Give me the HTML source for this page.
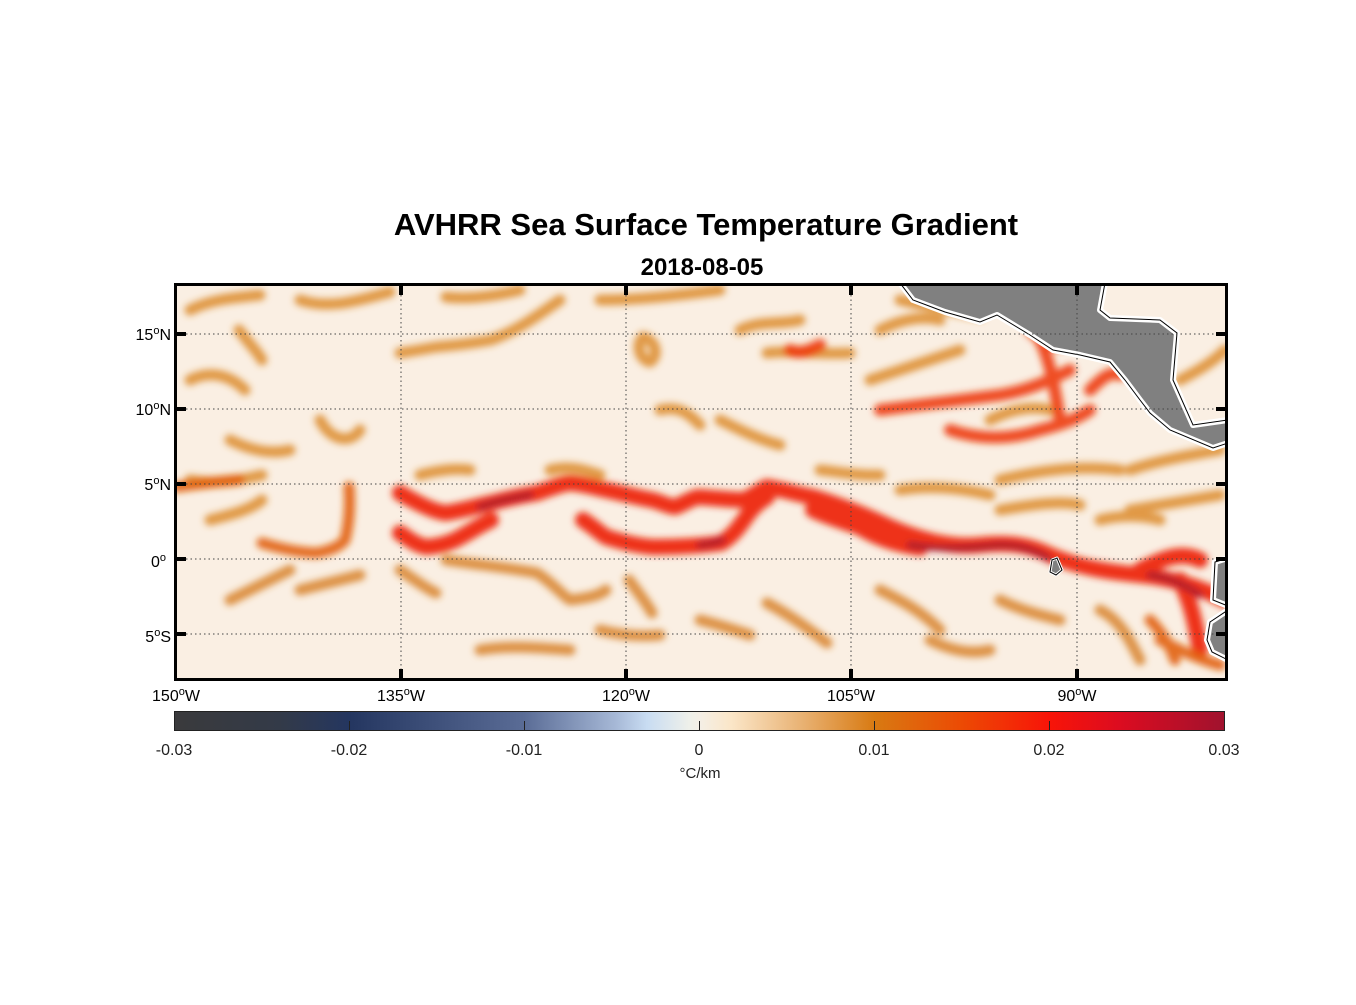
<!DOCTYPE html>
<html><head><meta charset="utf-8"><style>
html,body{margin:0;padding:0;background:#fff;}
body{width:1356px;height:1000px;overflow:hidden;font-family:"Liberation Sans",Arial,sans-serif;}
</style></head><body>
<svg width="1356" height="1000" viewBox="0 0 1356 1000" xmlns="http://www.w3.org/2000/svg" font-family="Liberation Sans, Arial, sans-serif">
<defs>
<filter id="b1" x="-20%" y="-20%" width="140%" height="140%"><feGaussianBlur stdDeviation="3.5"/></filter>
<clipPath id="cp"><rect x="177" y="286" width="1048" height="392"/></clipPath>
<linearGradient id="cb" x1="0" x2="1" y1="0" y2="0">
<stop offset="0" stop-color="#3a3a3c"/>
<stop offset="0.1" stop-color="#333a48"/>
<stop offset="0.1667" stop-color="#243660"/>
<stop offset="0.3333" stop-color="#5a6c96"/>
<stop offset="0.42" stop-color="#a6b8d6"/>
<stop offset="0.45" stop-color="#c8dcf2"/>
<stop offset="0.49" stop-color="#eef0ea"/>
<stop offset="0.5" stop-color="#f4efe6"/>
<stop offset="0.53" stop-color="#fbe6c8"/>
<stop offset="0.6" stop-color="#e8b070"/>
<stop offset="0.6667" stop-color="#d87a12"/>
<stop offset="0.75" stop-color="#ec4a04"/>
<stop offset="0.8333" stop-color="#f81408"/>
<stop offset="0.9" stop-color="#dc0c20"/>
<stop offset="1" stop-color="#a0122e"/>
</linearGradient>
</defs>
<text x="706" y="235" text-anchor="middle" font-size="31" font-weight="bold">AVHRR Sea Surface Temperature Gradient</text>
<text x="702" y="275" text-anchor="middle" font-size="24" font-weight="bold">2018-08-05</text>
<g clip-path="url(#cp)">
<rect x="177" y="286" width="1048" height="392" fill="#faefe3"/>
<g fill="none" stroke-linecap="round" stroke-linejoin="round" filter="url(#b1)">
<g stroke="#dc8a2a" stroke-width="11" opacity="0.85">
<path d="M400 353 C420 350 430 348 436 347 C460 345 480 342 491 340 C520 330 545 310 560 300"/>
<path d="M446 297 C470 300 500 295 520 290"/>
<path d="M239 330 C250 345 258 352 262 360"/>
<path d="M190 310 C210 300 230 298 260 295"/>
<path d="M300 300 C330 310 360 300 390 292"/>
<path d="M643 337 C635 345 640 360 650 362 C660 355 655 340 643 337"/>
<path d="M767 353 C790 350 820 355 850 353"/>
<path d="M740 330 C760 320 780 325 800 320"/>
<path d="M600 300 C640 300 680 295 720 290"/>
<path d="M880 330 C900 320 920 315 940 320"/>
<path d="M870 380 C900 370 930 360 960 350"/>
<path d="M900 300 C920 305 950 310 980 315"/>
<path d="M190 380 C210 370 230 375 245 390"/>
<path d="M230 440 C250 450 270 455 290 450"/>
<path d="M320 420 C330 440 350 445 360 430"/>
<path d="M190 480 C220 485 240 480 262 475"/>
<path d="M210 520 C230 515 250 510 262 500"/>
<path d="M720 420 C740 430 760 440 780 445"/>
<path d="M1000 480 C1040 470 1080 465 1120 470"/>
<path d="M1130 470 C1160 460 1190 455 1220 450"/>
<path d="M420 475 C440 470 455 468 470 470"/>
<path d="M820 470 C840 472 860 476 880 475"/>
<path d="M1130 510 C1160 505 1190 500 1220 495"/>
<path d="M1180 380 C1200 370 1215 360 1225 350"/>
<path d="M990 420 C1010 410 1030 405 1050 410"/>
<path d="M660 410 C680 405 690 415 700 425"/>
<path d="M550 470 C570 465 585 470 600 475"/>
<path d="M900 490 C930 485 960 488 990 495"/>
<path d="M1000 510 C1030 505 1060 500 1080 505"/>
<path d="M1100 520 C1120 515 1140 515 1160 520"/>
</g>
<g stroke="#ee3a0a" stroke-width="12" opacity="0.9">
<path d="M880 410 C920 405 960 400 1000 395 C1030 390 1050 380 1070 370"/>
<path d="M950 430 C980 440 1010 440 1040 430 C1060 425 1075 420 1090 410"/>
<path d="M1040 340 C1050 360 1055 390 1060 420"/>
<path d="M1090 390 C1100 380 1110 370 1120 375"/>
<path d="M1030 330 C1040 340 1050 345 1060 345"/>
<path d="M790 350 C800 355 810 350 820 345"/>
</g>
<g stroke="#d8822a" stroke-width="11" opacity="0.85">
<path d="M446 560 C480 565 510 568 537 573 C555 585 562 595 570 600 C590 598 600 595 606 590"/>
<path d="M400 570 C415 580 425 588 436 593"/>
<path d="M629 580 C640 595 648 605 652 613"/>
<path d="M767 603 C790 615 810 630 827 643"/>
<path d="M230 600 C250 590 270 580 290 570"/>
<path d="M300 590 C320 585 340 580 360 575"/>
<path d="M880 590 C900 600 920 610 940 630"/>
<path d="M930 640 C950 650 970 655 990 650"/>
<path d="M1000 600 C1020 610 1040 615 1060 620"/>
<path d="M600 630 C620 635 640 637 660 635"/>
<path d="M700 620 C720 625 735 630 750 635"/>
<path d="M1100 610 C1120 620 1130 640 1140 660"/>
<path d="M480 650 C510 645 540 648 570 650"/>
</g>
<g stroke="#ee2a08" stroke-width="16" opacity="0.95">
<path d="M400 493 C420 505 435 512 446 513 C465 510 480 505 491 503 C510 498 525 495 537 493 C552 488 560 484 570 483 C585 484 595 488 606 490 C625 494 640 498 652 500 C663 503 670 507 675 507 C685 503 692 498 698 497 C715 498 730 500 744 500 C755 495 760 490 767 487 C785 490 800 495 813 497 C840 505 865 515 890 527 C920 540 950 548 980 545 C1010 542 1030 545 1050 555 C1080 568 1110 572 1140 575 C1170 578 1195 585 1225 600"/>
<path d="M400 533 C410 540 418 546 427 547 C440 546 448 543 455 540 C470 532 480 525 491 520"/>
<path d="M583 520 C595 528 600 533 606 537 C625 543 640 546 652 547 C680 547 700 546 721 543 C735 535 742 522 749 513 C755 505 762 500 767 497"/>
<path d="M813 510 C830 518 845 522 859 527 C880 540 900 545 920 548"/>
<path d="M1180 580 C1190 600 1195 620 1200 650"/>
<path d="M1140 570 C1160 560 1180 550 1200 560"/>
</g>
<g stroke="#e2600a" stroke-width="11" opacity="0.9">
<path d="M262 543 C285 550 305 553 317 553 C332 550 340 546 345 540 C350 520 350 500 349 487"/>
<path d="M177 487 C200 484 220 481 239 480"/>
<path d="M1160 640 C1180 650 1200 660 1220 665"/>
<path d="M1150 620 C1160 630 1170 645 1175 660"/>
</g>
<g stroke="#a81a30" stroke-width="7" opacity="0.9">
<path d="M480 507 C500 500 515 498 530 495"/>
<path d="M910 545 C940 550 970 548 1000 545 C1020 545 1035 550 1048 558"/>
<path d="M1150 575 C1170 578 1185 585 1200 595"/>
<path d="M700 545 C710 544 718 542 722 540"/>
</g>
</g>
<g fill="#808080" stroke="#fff" stroke-width="6" stroke-linejoin="round">
<path d="M900 283 L913 300 L945 312 L980 322 L997 315 L1030 335 L1053 350 L1080 355 L1110 362 L1125 380 L1140 400 L1150 413 L1170 430 L1213 448 L1228 443 L1228 420 L1193 425 L1173 380 L1177 333 L1160 320 L1110 318 L1100 310 L1105 283 Z"/>
<path d="M1228 558 L1215 562 L1213 600 L1228 606 Z"/>
<path d="M1228 610 L1210 622 L1207 640 L1212 652 L1228 660 Z"/>
<path d="M1052 560 L1057 558 L1062 570 L1056 575 L1050 572 Z" stroke-width="3"/>
</g>
<g fill="none" stroke="#000" stroke-width="1">
<path d="M900 283 L913 300 L945 312 L980 322 L997 315 L1030 335 L1053 350 L1080 355 L1110 362 L1125 380 L1140 400 L1150 413 L1170 430 L1213 448 L1228 443 M1228 420 L1193 425 L1173 380 L1177 333 L1160 320 L1110 318 L1100 310 L1105 283"/>
<path d="M1228 558 L1215 562 L1213 600 L1228 606 M1228 610 L1210 622 L1207 640 L1212 652 L1228 660"/>
<path d="M1052 560 L1057 558 L1062 570 L1056 575 L1050 572 Z"/>
</g>
<g stroke="#444" stroke-width="1" stroke-dasharray="1.5,3">
<line x1="401" y1="286" x2="401" y2="678"/><line x1="626" y1="286" x2="626" y2="678"/>
<line x1="851" y1="286" x2="851" y2="678"/><line x1="1077" y1="286" x2="1077" y2="678"/>
<line x1="177" y1="334" x2="1225" y2="334"/><line x1="177" y1="409" x2="1225" y2="409"/>
<line x1="177" y1="484" x2="1225" y2="484"/><line x1="177" y1="559" x2="1225" y2="559"/>
<line x1="177" y1="634" x2="1225" y2="634"/>
</g>
</g>
<rect x="175.5" y="284.5" width="1051" height="395" fill="none" stroke="#000" stroke-width="3"/>
<g stroke="#000" stroke-width="4">
<line x1="401" y1="286" x2="401" y2="295"/><line x1="626" y1="286" x2="626" y2="295"/><line x1="851" y1="286" x2="851" y2="295"/><line x1="1077" y1="286" x2="1077" y2="295"/>
<line x1="401" y1="678" x2="401" y2="669"/><line x1="626" y1="678" x2="626" y2="669"/><line x1="851" y1="678" x2="851" y2="669"/><line x1="1077" y1="678" x2="1077" y2="669"/>
<line x1="177" y1="334" x2="186" y2="334"/><line x1="177" y1="409" x2="186" y2="409"/><line x1="177" y1="484" x2="186" y2="484"/><line x1="177" y1="559" x2="186" y2="559"/><line x1="177" y1="634" x2="186" y2="634"/>
<line x1="1225" y1="334" x2="1216" y2="334"/><line x1="1225" y1="409" x2="1216" y2="409"/><line x1="1225" y1="484" x2="1216" y2="484"/><line x1="1225" y1="559" x2="1216" y2="559"/><line x1="1225" y1="634" x2="1216" y2="634"/>
</g>
<g font-size="16" fill="#000">
<text x="171" y="340" text-anchor="end">15<tspan font-size="11" dy="-6">o</tspan><tspan dy="6">N</tspan></text>
<text x="171" y="415" text-anchor="end">10<tspan font-size="11" dy="-6">o</tspan><tspan dy="6">N</tspan></text>
<text x="171" y="490" text-anchor="end">5<tspan font-size="11" dy="-6">o</tspan><tspan dy="6">N</tspan></text>
<text x="166" y="567" text-anchor="end">0<tspan font-size="11" dy="-6">o</tspan></text>
<text x="171" y="642" text-anchor="end">5<tspan font-size="11" dy="-6">o</tspan><tspan dy="6">S</tspan></text>
<text x="176" y="701" text-anchor="middle">150<tspan font-size="11" dy="-6">o</tspan><tspan dy="6">W</tspan></text>
<text x="401" y="701" text-anchor="middle">135<tspan font-size="11" dy="-6">o</tspan><tspan dy="6">W</tspan></text>
<text x="626" y="701" text-anchor="middle">120<tspan font-size="11" dy="-6">o</tspan><tspan dy="6">W</tspan></text>
<text x="851" y="701" text-anchor="middle">105<tspan font-size="11" dy="-6">o</tspan><tspan dy="6">W</tspan></text>
<text x="1077" y="701" text-anchor="middle">90<tspan font-size="11" dy="-6">o</tspan><tspan dy="6">W</tspan></text>
</g>
<rect x="174.5" y="711.5" width="1050" height="19" fill="url(#cb)" stroke="#222" stroke-width="1"/>
<g stroke="#222" stroke-width="1">
<line x1="349.5" y1="730" x2="349.5" y2="721"/><line x1="524.5" y1="730" x2="524.5" y2="721"/><line x1="699.5" y1="730" x2="699.5" y2="721"/><line x1="874.5" y1="730" x2="874.5" y2="721"/><line x1="1049.5" y1="730" x2="1049.5" y2="721"/>
</g>
<g font-size="16" fill="#222" text-anchor="middle">
<text x="174" y="755">-0.03</text><text x="349" y="755">-0.02</text><text x="524" y="755">-0.01</text>
<text x="699" y="755">0</text><text x="874" y="755">0.01</text><text x="1049" y="755">0.02</text><text x="1224" y="755">0.03</text>
<text x="700" y="778" font-size="15">°C/km</text>
</g>
</svg>
</body></html>
